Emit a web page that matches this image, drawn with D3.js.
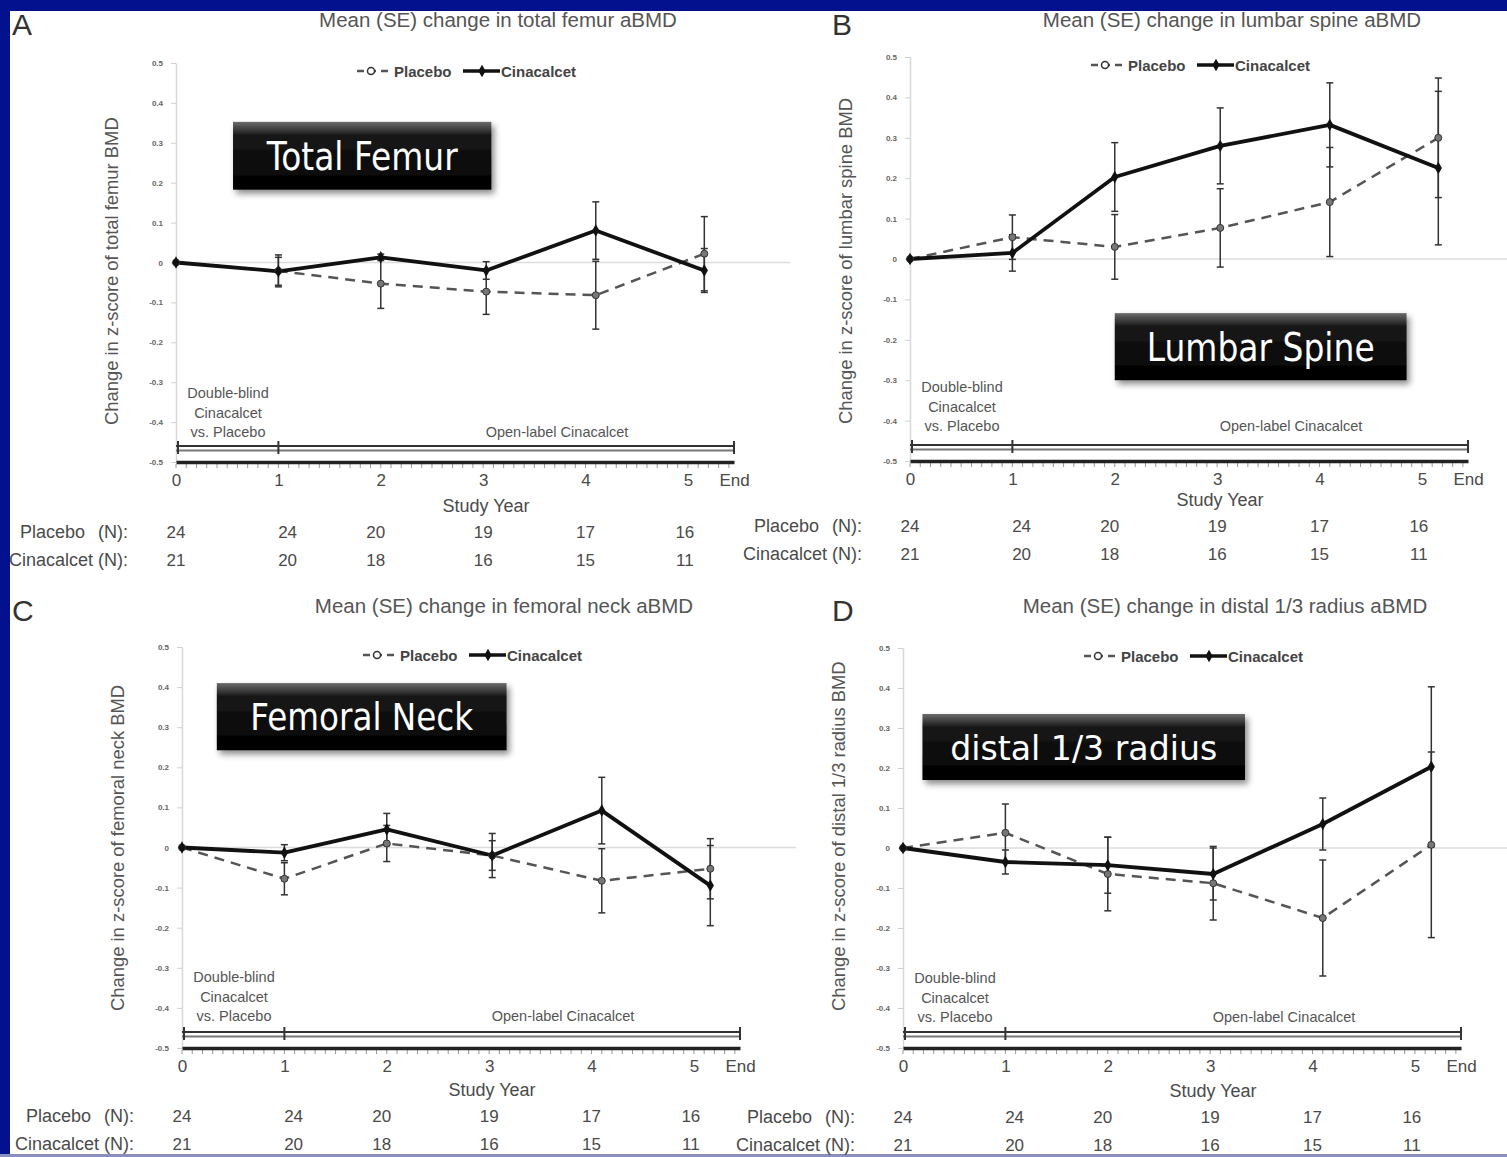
<!DOCTYPE html>
<html>
<head>
<meta charset="utf-8">
<script src="https://cdn.jsdelivr.net/npm/d3@7"></script>
<style>
  body { margin: 0; background: #fff; }
  svg { display: block; font-family: "Liberation Sans", Arial, sans-serif; }
</style>
</head>
<body>
<div id="chart"></div>
<script>
// Study visits (years since baseline) and axis labels
const visitYears = [0, 1, 2, 3.03, 4.1, 5.16];
const xTickValues = [0, 1, 2, 3, 4, 5, 5.45];
const xTickLabels = ["0", "1", "2", "3", "4", "5", "End"];
const yTickValues = [0.5, 0.4, 0.3, 0.2, 0.1, 0, -0.1, -0.2, -0.3, -0.4, -0.5];
const yTickLabels = ["0.5", "0.4", "0.3", "0.2", "0.1", "0", "-0.1", "-0.2", "-0.3", "-0.4", "-0.5"];

// Number of subjects at each visit
const nPlacebo = [24, 24, 20, 19, 17, 16];
const nCinacalcet = [21, 20, 18, 16, 15, 11];
const nLabelYears = [0, 1.09, 1.95, 3, 4, 4.97]; // where the counts sit under the axis

// A: total femur
const femurPlacebo      = [0, -0.021, -0.053, -0.073, -0.082, 0.022];
const femurPlaceboSE    = [0, 0.04, 0.062, 0.057, 0.085, 0.093];
const femurCinacalcet   = [0, -0.022, 0.013, -0.02, 0.08, -0.02];
const femurCinacalcetSE = [0, 0.035, 0.008, 0.022, 0.072, 0.055];

// B: lumbar spine
const spinePlacebo      = [0, 0.054, 0.03, 0.077, 0.141, 0.30];
const spinePlaceboSE    = [0, 0.055, 0.08, 0.097, 0.135, 0.148];
const spineCinacalcet   = [0, 0.015, 0.203, 0.28, 0.332, 0.225];
const spineCinacalcetSE = [0, 0.045, 0.085, 0.094, 0.104, 0.19];

// C: femoral neck
const neckPlacebo      = [0, -0.078, 0.01, -0.02, -0.083, -0.053];
const neckPlaceboSE    = [0, 0.04, 0.045, 0.055, 0.08, 0.075];
const neckCinacalcet   = [0, -0.013, 0.045, -0.02, 0.092, -0.095];
const neckCinacalcetSE = [0, 0.02, 0.04, 0.037, 0.083, 0.1];

// D: distal 1/3 radius
const radiusPlacebo      = [0, 0.038, -0.065, -0.088, -0.175, 0.008];
const radiusPlaceboSE    = [0, 0.072, 0.092, 0.092, 0.145, 0.232];
const radiusCinacalcet   = [0, -0.035, -0.043, -0.065, 0.06, 0.203];
const radiusCinacalcetSE = [0, 0.03, 0.07, 0.065, 0.065, 0.2];

const panels = [
  { letter: "A", letterX: 12, rowY: 0, axisX: 176, top: 63, bottom: 462,
    site: "total femur", box: "Total Femur", boxArea: [0.557, 3.08, 0.3525, 0.1825], boxFont: 39, boxTextW: 191,
    placebo: femurPlacebo, placeboSE: femurPlaceboSE, cina: femurCinacalcet, cinaSE: femurCinacalcetSE },
  { letter: "B", letterX: 832, rowY: 0, axisX: 910, top: 57, bottom: 461,
    site: "lumbar spine", box: "Lumbar Spine", boxArea: [2.0, 4.85, -0.134, -0.30], boxFont: 39, boxTextW: 228,
    placebo: spinePlacebo, placeboSE: spinePlaceboSE, cina: spineCinacalcet, cinaSE: spineCinacalcetSE },
  { letter: "C", letterX: 12, rowY: 586, axisX: 182, top: 647, bottom: 1048,
    site: "femoral neck", box: "Femoral Neck", boxArea: [0.34, 3.17, 0.41, 0.2425], boxFont: 37, boxTextW: 223,
    placebo: neckPlacebo, placeboSE: neckPlaceboSE, cina: neckCinacalcet, cinaSE: neckCinacalcetSE },
  { letter: "D", letterX: 832, rowY: 586, axisX: 903, top: 648, bottom: 1048,
    site: "distal 1/3 radius", box: "distal 1/3 radius", boxArea: [0.19, 3.34, 0.335, 0.17], boxFont: 34, boxTextW: 267,
    placebo: radiusPlacebo, placeboSE: radiusPlaceboSE, cina: radiusCinacalcet, cinaSE: radiusCinacalcetSE }
];

const W = 1507, H = 1157;
const textColor = "#4a4a4a";

const svg = d3.select("#chart").append("svg")
    .attr("width", W)
    .attr("height", H);

// gradient + shadow for the black label boxes
const defs = svg.append("defs");
const grad = defs.append("linearGradient")
    .attr("id", "boxGrad")
    .attr("x1", 0).attr("y1", 0).attr("x2", 0).attr("y2", 1);
grad.append("stop").attr("offset", "0%").attr("stop-color", "#6b6b6b");
grad.append("stop").attr("offset", "20%").attr("stop-color", "#181818");
grad.append("stop").attr("offset", "100%").attr("stop-color", "#000");

defs.append("filter")
    .attr("id", "shadow")
    .attr("x", "-10%").attr("y", "-10%").attr("width", "130%").attr("height", "140%")
    .append("feDropShadow")
    .attr("dx", 3).attr("dy", 4)
    .attr("stdDeviation", 3)
    .attr("flood-color", "#000")
    .attr("flood-opacity", 0.45);

// slide frame
svg.append("rect").attr("x", 0).attr("y", 0).attr("width", W).attr("height", 11).attr("fill", "#03118e");
svg.append("rect").attr("x", 0).attr("y", 0).attr("width", 10).attr("height", H).attr("fill", "#03118e");
svg.append("rect").attr("x", 0).attr("y", H - 3).attr("width", W).attr("height", 3).attr("fill", "#8a8fc2");

panels.forEach(drawPanel);

function drawPanel(p) {
    const g = svg.append("g");

    const x = d3.scaleLinear().domain([0, 5.45]).range([p.axisX, p.axisX + 558]);
    const y = d3.scaleLinear().domain([-0.5, 0.5]).range([p.bottom, p.top]);

    // panel letter and title
    g.append("text")
        .attr("x", p.letterX)
        .attr("y", p.rowY + 35)
        .attr("font-size", 30)
        .attr("fill", "#333")
        .text(p.letter);

    g.append("text")
        .attr("x", p.axisX + 322)
        .attr("y", p.rowY + 27)
        .attr("text-anchor", "middle")
        .attr("font-size", 20.5)
        .attr("fill", "#555")
        .text("Mean (SE) change in " + p.site + " aBMD");

    // y axis label
    g.append("text")
        .attr("transform", `translate(${p.axisX - 58},${p.bottom - 37}) rotate(-90)`)
        .attr("font-size", 18.4)
        .attr("fill", "#555")
        .text("Change in z-score of " + p.site + " BMD");

    // zero line
    g.append("line")
        .attr("x1", p.axisX).attr("x2", p.axisX + 614)
        .attr("y1", y(0)).attr("y2", y(0))
        .attr("stroke", "#dcdcdc")
        .attr("stroke-width", 1.5);

    // y axis (light, tiny labels)
    const yAxis = g.append("g")
        .attr("transform", `translate(${p.axisX},0)`)
        .call(d3.axisLeft(y)
            .tickValues(yTickValues)
            .tickFormat((d, i) => yTickLabels[i])
            .tickSize(5)
            .tickSizeOuter(0)
            .tickPadding(8));
    yAxis.select(".domain").attr("stroke", "#d8d8d8").attr("stroke-width", 1.5);
    yAxis.selectAll(".tick line").attr("stroke", "#d0d0d0");
    yAxis.selectAll(".tick text")
        .attr("font-size", 8)
        .attr("font-weight", "bold")
        .attr("font-family", "Liberation Sans, Arial, sans-serif")
        .attr("fill", "#666");

    // minor ticks under the x axis
    g.append("g").selectAll("line")
        .data(d3.range(0, 54.6, 1).map(v => v / 10))
        .enter().append("line")
        .attr("x1", d => x(d)).attr("x2", d => x(d))
        .attr("y1", y(-0.5) + 2).attr("y2", y(-0.5) + 6)
        .attr("stroke", "#999")
        .attr("stroke-width", 1);

    // x axis
    const xAxis = g.append("g")
        .attr("transform", `translate(0,${y(-0.5)})`)
        .call(d3.axisBottom(x)
            .tickValues(xTickValues)
            .tickFormat((d, i) => xTickLabels[i])
            .tickSize(0)
            .tickPadding(12));
    xAxis.select(".domain").attr("stroke", "#222").attr("stroke-width", 3.5);
    xAxis.selectAll(".tick text")
        .attr("font-size", 17)
        .attr("font-family", "Liberation Sans, Arial, sans-serif")
        .attr("fill", textColor);

    // study phase bar
    const barY = y(-0.5) - 14;
    g.append("line")
        .attr("x1", x(0)).attr("x2", x(5.45))
        .attr("y1", barY - 2).attr("y2", barY - 2)
        .attr("stroke", "#333").attr("stroke-width", 2);
    g.append("line")
        .attr("x1", x(0)).attr("x2", x(5.45))
        .attr("y1", barY + 2.5).attr("y2", barY + 2.5)
        .attr("stroke", "#777").attr("stroke-width", 2);
    g.append("g").selectAll("line")
        .data([0, 1, 5.45])
        .enter().append("line")
        .attr("x1", d => x(d) + (d === 0 ? 2 : 0)).attr("x2", d => x(d) + (d === 0 ? 2 : 0))
        .attr("y1", barY - 7).attr("y2", barY + 6)
        .attr("stroke", "#333").attr("stroke-width", 2);

    const phase = g.append("g")
        .attr("font-size", 14.5)
        .attr("fill", "#555")
        .attr("text-anchor", "middle");
    ["Double-blind", "Cinacalcet", "vs. Placebo"].forEach((t, i) => {
        phase.append("text")
            .attr("x", p.axisX + 52)
            .attr("y", p.top + 335 + i * 19.5)
            .text(t);
    });
    phase.append("text")
        .attr("x", p.axisX + 381)
        .attr("y", p.top + 374)
        .text("Open-label Cinacalcet");

    // x axis title and N table
    g.append("text")
        .attr("x", p.axisX + 310)
        .attr("y", p.top + 449)
        .attr("text-anchor", "middle")
        .attr("font-size", 18)
        .attr("fill", textColor)
        .text("Study Year");

    const nRows = [
        { label: "Placebo", counts: nPlacebo, dy: 475 },
        { label: "Cinacalcet", counts: nCinacalcet, dy: 503 }
    ];
    nRows.forEach(row => {
        const rowY = p.top + row.dy;
        if (row.label === "Placebo") {
            g.append("text").attr("x", p.axisX - 156).attr("y", rowY)
                .attr("font-size", 18).attr("fill", textColor).text("Placebo");
            g.append("text").attr("x", p.axisX - 48).attr("y", rowY)
                .attr("text-anchor", "end")
                .attr("font-size", 18).attr("fill", textColor).text("(N):");
        } else {
            g.append("text").attr("x", p.axisX - 48).attr("y", rowY)
                .attr("text-anchor", "end")
                .attr("font-size", 18).attr("fill", textColor).text("Cinacalcet (N):");
        }
        g.append("g").selectAll("text")
            .data(row.counts)
            .enter().append("text")
            .attr("x", (d, i) => x(nLabelYears[i]))
            .attr("y", rowY)
            .attr("text-anchor", "middle")
            .attr("font-size", 17)
            .attr("fill", textColor)
            .text(d => d);
    });

    // error bars
    const series = [
        { mean: p.placebo, se: p.placeboSE },
        { mean: p.cina, se: p.cinaSE }
    ];
    series.forEach(s => {
        const bars = g.append("g")
            .attr("stroke", "#333")
            .attr("stroke-width", 1.5);
        s.mean.forEach((m, i) => {
            if (s.se[i] === 0) return;
            const xi = x(visitYears[i]);
            const lo = y(m - s.se[i]);
            const hi = y(m + s.se[i]);
            bars.append("line").attr("x1", xi).attr("x2", xi).attr("y1", lo).attr("y2", hi);
            bars.append("line").attr("x1", xi - 3.5).attr("x2", xi + 3.5).attr("y1", lo).attr("y2", lo);
            bars.append("line").attr("x1", xi - 3.5).attr("x2", xi + 3.5).attr("y1", hi).attr("y2", hi);
        });
    });

    const lineGen = d3.line()
        .x((d, i) => x(visitYears[i]))
        .y(d => y(d));

    // placebo: dashed grey line, small circles
    g.append("path")
        .datum(p.placebo)
        .attr("d", lineGen)
        .attr("fill", "none")
        .attr("stroke", "#555")
        .attr("stroke-width", 2.5)
        .attr("stroke-dasharray", "10,7");

    // cinacalcet: thick solid black line, diamonds
    g.append("path")
        .datum(p.cina)
        .attr("d", lineGen)
        .attr("fill", "none")
        .attr("stroke", "#111")
        .attr("stroke-width", 3.8)
        .attr("stroke-linejoin", "round");

    g.append("g").selectAll("circle")
        .data(p.placebo)
        .enter().append("circle")
        .attr("cx", (d, i) => x(visitYears[i]))
        .attr("cy", d => y(d))
        .attr("r", 3.5)
        .attr("fill", "#777")
        .attr("stroke", "#333")
        .attr("stroke-width", 1);

    g.append("g").selectAll("path")
        .data(p.cina)
        .enter().append("path")
        .attr("d", d3.symbol().type(d3.symbolDiamond).size(45))
        .attr("transform", (d, i) => `translate(${x(visitYears[i])},${y(d)})`)
        .attr("fill", "#111");

    drawLegend(g, p.axisX + 295, p.top + 8);

    // black site label box
    const bx0 = x(p.boxArea[0]), bx1 = x(p.boxArea[1]);
    const by0 = y(p.boxArea[2]), by1 = y(p.boxArea[3]);
    g.append("rect")
        .attr("x", bx0).attr("y", by0)
        .attr("width", bx1 - bx0).attr("height", by1 - by0)
        .attr("fill", "url(#boxGrad)")
        .attr("filter", "url(#shadow)");
    g.append("text")
        .attr("x", (bx0 + bx1) / 2)
        .attr("y", (by0 + by1) / 2 + 1)
        .attr("text-anchor", "middle")
        .attr("dominant-baseline", "central")
        .attr("font-family", "DejaVu Sans, Verdana, sans-serif")
        .attr("font-size", p.boxFont)
        .attr("fill", "#fff")
        .attr("textLength", p.boxTextW)
        .attr("lengthAdjust", "spacingAndGlyphs")
        .text(p.box);
}

function drawLegend(g, cx, cy) {
    const lg = g.append("g")
        .attr("font-size", 15)
        .attr("font-weight", "bold")
        .attr("fill", "#444");

    lg.append("line")
        .attr("x1", cx - 114).attr("x2", cx - 80)
        .attr("y1", cy).attr("y2", cy)
        .attr("stroke", "#555").attr("stroke-width", 2.5)
        .attr("stroke-dasharray", "7,5");
    lg.append("circle")
        .attr("cx", cx - 100).attr("cy", cy).attr("r", 3.5)
        .attr("fill", "#fff").attr("stroke", "#333").attr("stroke-width", 1.5);
    lg.append("text")
        .attr("x", cx - 77).attr("y", cy + 5.5)
        .text("Placebo");

    lg.append("line")
        .attr("x1", cx - 8).attr("x2", cx + 29)
        .attr("y1", cy).attr("y2", cy)
        .attr("stroke", "#111").attr("stroke-width", 3.5);
    lg.append("path")
        .attr("d", d3.symbol().type(d3.symbolDiamond).size(45))
        .attr("transform", `translate(${cx + 11},${cy})`)
        .attr("fill", "#111");
    lg.append("text")
        .attr("x", cx + 30).attr("y", cy + 5.5)
        .text("Cinacalcet");
}
</script>
</body>
</html>
